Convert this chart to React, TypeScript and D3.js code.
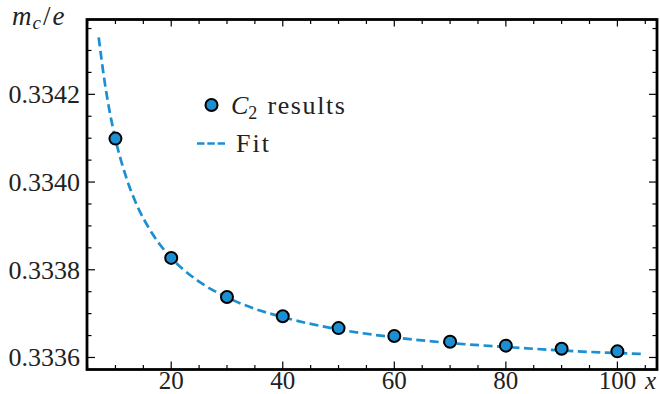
import React from "react";
import * as d3 from "d3";

const pointX = [10, 20, 30, 40, 50, 60, 70, 80, 90, 100];
const pointY = [0.334099, 0.333827, 0.333738, 0.333694, 0.333667, 0.333649, 0.333636, 0.333627, 0.33362, 0.333614];

const fitX = [7, 8, 9, 10, 12, 14, 16, 18, 20, 25, 30, 35, 40, 50, 60, 70, 80, 90, 100, 105];
const fitY = [0.33433, 0.334234, 0.334158, 0.334098, 0.334008, 0.333943, 0.333895, 0.333857, 0.333827, 0.333773, 0.333737, 0.333711, 0.333692, 0.333664, 0.333646, 0.333633, 0.333624, 0.333616, 0.33361, 0.333608];

const xMajor = [20, 40, 60, 80, 100];
const xMinor = [5, 10, 15, 25, 30, 35, 45, 50, 55, 65, 70, 75, 85, 90, 95, 105];
const yMajor = [0.3336, 0.3338, 0.334, 0.3342];
const yMinor = [0.33365, 0.3337, 0.33375, 0.33385, 0.3339, 0.33395, 0.33405, 0.3341, 0.33415, 0.33425, 0.3343, 0.33435];

const BLUE = "#1b8fd2";
const FONT = "'Liberation Serif', 'DejaVu Serif', serif";

export default function App() {
  const W = 660, H = 394;
  const L = 87, R = 657, T = 19.5, B = 369.5;
  const x = d3.scaleLinear().domain([4.9, 107.1]).range([L, R]);
  const y = d3.scaleLinear().domain([0.3335726, 0.3343706]).range([B, T]);
  const line = d3.line<number>().x((_, i) => x(fitX[i])).y((d) => y(d)).curve(d3.curveMonotoneX);
  const yFmt = d3.format(".4f");
  return (
    <svg width={W} height={H} style={{ position: "absolute", left: 0, top: 0, display: "block" }}>
      <rect width={W} height={H} fill="white" />
      <path d={line(fitY) || ""} fill="none" stroke={BLUE} strokeWidth={2.7} strokeDasharray="9,4.5" />
      {pointX.map((px, i) => (
        <circle key={i} cx={x(px)} cy={y(pointY[i])} r={6} fill={BLUE} stroke="black" strokeWidth={2} />
      ))}
      {xMajor.map((t) => (
        <g key={"xm" + t}>
          <line x1={x(t)} x2={x(t)} y1={B} y2={B - 8} stroke="black" strokeWidth={1.2} />
          <line x1={x(t)} x2={x(t)} y1={T} y2={T + 7} stroke="black" strokeWidth={1.2} />
          <text x={x(t)} y={388.5} textAnchor="middle" fontFamily={FONT} fontSize={25} fill="#222">{t}</text>
        </g>
      ))}
      {xMinor.map((t) => (
        <g key={"xn" + t}>
          <line x1={x(t)} x2={x(t)} y1={B} y2={B - 4.5} stroke="black" strokeWidth={1.2} />
          <line x1={x(t)} x2={x(t)} y1={T} y2={T + 4.5} stroke="black" strokeWidth={1.2} />
        </g>
      ))}
      {yMajor.map((t) => (
        <g key={"ym" + t}>
          <line x1={L} x2={L + 8} y1={y(t)} y2={y(t)} stroke="black" strokeWidth={1.2} />
          <line x1={R} x2={R - 8} y1={y(t)} y2={y(t)} stroke="black" strokeWidth={1.2} />
          <text x={80} y={y(t) + 9} textAnchor="end" fontFamily={FONT} fontSize={26} fill="#222">{yFmt(t)}</text>
        </g>
      ))}
      {yMinor.map((t) => (
        <g key={"yn" + t}>
          <line x1={L} x2={L + 4.5} y1={y(t)} y2={y(t)} stroke="black" strokeWidth={1.2} />
          <line x1={R} x2={R - 4.5} y1={y(t)} y2={y(t)} stroke="black" strokeWidth={1.2} />
        </g>
      ))}
      <rect x={L} y={T} width={R - L} height={B - T} fill="none" stroke="black" strokeWidth={2.8} />
      <text x={645} y={388.5} fontFamily={FONT} fontSize={25} fontStyle="italic" fill="#222">x</text>
      <text x={12} y={25} fontFamily={FONT} fontSize={27} fill="#222">
        <tspan fontStyle="italic">m</tspan>
        <tspan fontStyle="italic" fontSize={19} dy={4} dx={1}>c</tspan>
        <tspan dy={-4} dx={2}>/</tspan>
        <tspan fontStyle="italic" dx={2}>e</tspan>
      </text>
      <circle cx={211.5} cy={105} r={6} fill={BLUE} stroke="black" strokeWidth={2} />
      <text x={231} y={114} fontFamily={FONT} fontSize={26} fill="#222">
        <tspan fontStyle="italic">C</tspan>
        <tspan fontSize={18} dy={5}>2</tspan>
        <tspan dy={-5} dx={2} letterSpacing={1.6}> results</tspan>
      </text>
      <line x1={197} x2={225} y1={143.5} y2={143.5} stroke={BLUE} strokeWidth={2.7} strokeDasharray="7.5,2.8" />
      <text x={236} y={152} fontFamily={FONT} fontSize={26} letterSpacing={2} fill="#222">Fit</text>
    </svg>
  );
}
